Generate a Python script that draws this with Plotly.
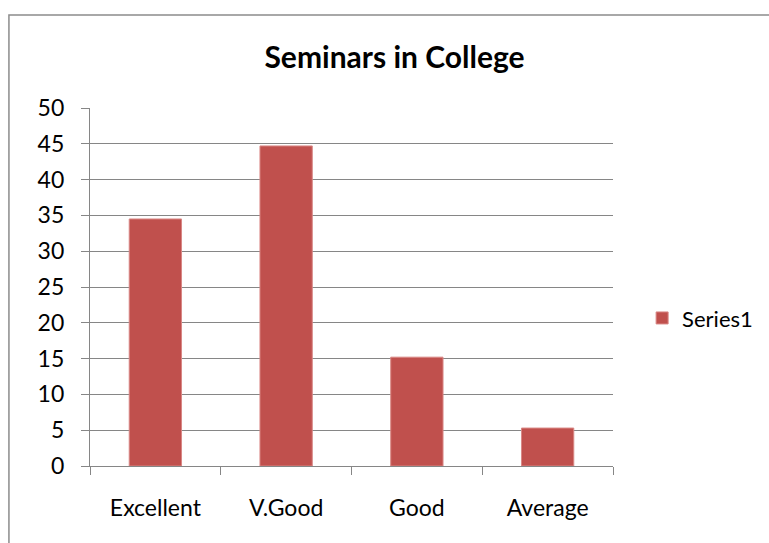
import plotly.graph_objects as go

categories = ["Excellent", "V.Good", "Good", "Average"]
values = [34.5, 44.7, 15.2, 5.3]
series_name = "Series1"
title = "Seminars in College"

BAR_COLOR = "#C0504D"
GRID_COLOR = "#868686"
FONT = "Lato, Calibri, sans-serif"

fig = go.Figure(
    go.Bar(
        x=categories,
        y=values,
        name=series_name,
        marker=dict(color=BAR_COLOR, line=dict(color="#D98785", width=1)),
        showlegend=True,
    )
)

# outer chart border, cut off on the right and bottom like the source image
fig.add_shape(
    type="rect",
    xref="paper",
    yref="paper",
    x0=-0.155,
    x1=1.32,
    y0=-0.25,
    y1=1.26,
    line=dict(color="#8c8c8c", width=1.5),
    layer="below",
)

fig.update_layout(
    width=769,
    height=543,
    margin=dict(l=90, r=156, t=108, b=77, autoexpand=False),
    paper_bgcolor="white",
    plot_bgcolor="white",
    font=dict(family=FONT, size=23, color="black"),
    title=dict(
        text="<b>" + title + "</b>",
        font=dict(family=FONT, size=30, color="black"),
        x=0.513,
        xref="container",
        xanchor="center",
        y=0.895,
        yanchor="middle",
    ),
    bargap=0.6,
    legend=dict(
        x=0.835,
        xref="container",
        y=0.413,
        xanchor="left",
        yanchor="middle",
        font=dict(family=FONT, size=22),
        itemwidth=30,
    ),
)

fig.update_yaxes(
    range=[0, 50],
    dtick=5,
    showgrid=True,
    gridcolor=GRID_COLOR,
    gridwidth=1.3,
    showline=True,
    linecolor=GRID_COLOR,
    linewidth=1.3,
    ticks="outside",
    ticklen=8,
    tickcolor=GRID_COLOR,
    ticklabelstandoff=12,
    zeroline=False,
)
fig.update_xaxes(
    showline=True,
    linecolor=GRID_COLOR,
    linewidth=1.3,
    ticks="outside",
    tickson="boundaries",
    ticklen=8,
    tickcolor=GRID_COLOR,
    ticklabelstandoff=21,
)

# drop the default page margin so the figure sits at the window origin
fig.write_html(
    "out.html",
    config={"displayModeBar": False},
    post_script="document.body.style.margin='0';",
)
